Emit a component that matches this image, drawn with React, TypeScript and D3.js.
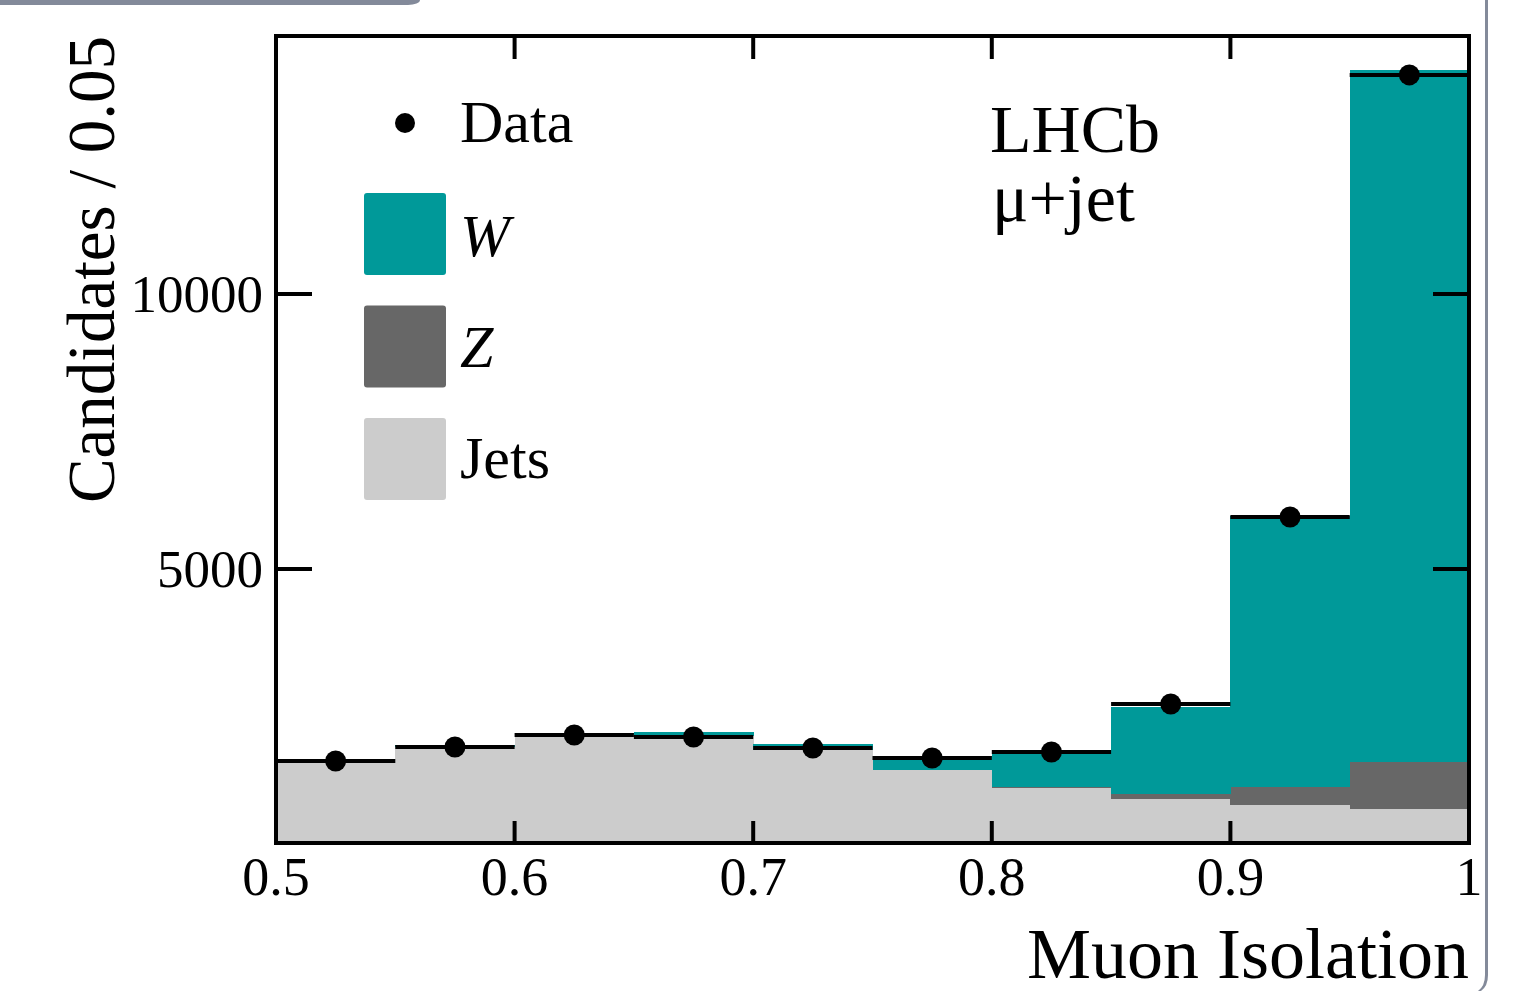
import React from "react";
import * as d3 from "d3";

const binEdges = [0.5, 0.55, 0.6, 0.65, 0.7, 0.75, 0.8, 0.85, 0.9, 0.95, 1.0];
const jets = [1512, 1764, 2000, 1964, 1709, 1345, 1018, 818, 709, 636];
const zBos = [0, 0, 0, 0, 0, 0, 22, 91, 327, 855];
const wBos = [4, 36, 18, 72, 115, 255, 596, 1581, 4930, 12582];
const data = [1509, 1764, 1982, 1945, 1745, 1564, 1673, 2545, 5945, 13982];
const xTicks = [0.5, 0.6, 0.7, 0.8, 0.9, 1.0];
const xTickLabels = ["0.5", "0.6", "0.7", "0.8", "0.9", "1"];
const yTicks = [5000, 10000];
const legendItems = [
  { label: "W", color: "#009999", italic: true },
  { label: "Z", color: "#676767", italic: true },
  { label: "Jets", color: "#cccccc", italic: false },
];

const W = 1527;
const H = 991;
const L = 276, R = 1469, T = 36, B = 844;
const FONT = "'Liberation Serif', 'Times New Roman', serif";

export default function App() {
  const x = d3.scaleLinear().domain([0.5, 1.0]).range([L, R]);
  const y = d3.scaleLinear().domain([0, 14690]).range([B, T]);

  const layers = [
    { vals: jets, color: "#cccccc" },
    { vals: zBos, color: "#676767" },
    { vals: wBos, color: "#009999" },
  ];
  const cum = new Array(jets.length).fill(0);
  const rects: React.ReactElement[] = [];
  layers.forEach((layer, li) => {
    layer.vals.forEach((v, i) => {
      const y0 = cum[i];
      const y1 = cum[i] + v;
      cum[i] = y1;
      if (v <= 0) return;
      rects.push(
        <rect
          key={`r${li}-${i}`}
          x={x(binEdges[i])}
          width={x(binEdges[i + 1]) - x(binEdges[i]) + 0.6}
          y={y(y1)}
          height={y(y0) - y(y1)}
          fill={layer.color}
          shapeRendering="crispEdges"
        />
      );
    });
  });

  return (
    <svg width={W} height={H} style={{ position: "absolute", left: 0, top: 0, background: "#fff" }} fontFamily={FONT}>
      {/* decorative frame */}
      <path d="M0,0 L420,0 A12,5 0 0 1 408,5 L0,5 Z" fill="#838a9a" />
      <path d="M1485,0 L1485,975 Q1485,986 1478,991 L1481,991 Q1488,986 1488,975 L1488,0 Z" fill="#838a9a" />

      {rects}

      {/* data */}
      {data.map((v, i) => (
        <g key={`d${i}`}>
          <line x1={x(binEdges[i])} x2={x(binEdges[i + 1])} y1={y(v)} y2={y(v)} stroke="#000" strokeWidth={4} />
          <circle cx={x((binEdges[i] + binEdges[i + 1]) / 2)} cy={y(v)} r={10.5} fill="#000" />
        </g>
      ))}

      {/* ticks */}
      {xTicks.map((t, i) => (
        <g key={`xt${i}`}>
          <line x1={x(t)} x2={x(t)} y1={B} y2={B - 23} stroke="#000" strokeWidth={4} />
          <line x1={x(t)} x2={x(t)} y1={T} y2={T + 23} stroke="#000" strokeWidth={4} />
          <text x={x(t)} y={895} fontSize={54} textAnchor="middle" fill="#000">{xTickLabels[i]}</text>
        </g>
      ))}
      {yTicks.map((t) => (
        <g key={`yt${t}`}>
          <line x1={L} x2={L + 36} y1={y(t)} y2={y(t)} stroke="#000" strokeWidth={4} />
          <line x1={R} x2={R - 36} y1={y(t)} y2={y(t)} stroke="#000" strokeWidth={4} />
          <text x={263} y={y(t) + 18} fontSize={53} textAnchor="end" fill="#000">{t}</text>
        </g>
      ))}

      {/* frame */}
      <rect x={L} y={T} width={R - L} height={B - T - 1} fill="none" stroke="#000" strokeWidth={4} />

      {/* axis titles */}
      <text x={R} y={978} fontSize={72} textAnchor="end" fill="#000">Muon Isolation</text>
      <text transform={`translate(114, ${T}) rotate(-90)`} fontSize={67} textAnchor="end" fill="#000">Candidates / 0.05</text>

      {/* legend */}
      <circle cx={405} cy={123} r={10} fill="#000" />
      <text x={460} y={142} fontSize={60} fill="#000">Data</text>
      {legendItems.map((it, i) => (
        <g key={`lg${i}`}>
          <rect x={364} y={193 + i * 112.5} width={82} height={82} rx={3} fill={it.color} />
          <text x={460} y={256 + i * 111} fontSize={60} fontStyle={it.italic ? "italic" : "normal"} fill="#000">{it.label}</text>
        </g>
      ))}

      {/* LHCb label */}
      <text x={990} y={152} fontSize={68} fill="#000">LHCb</text>
      <text x={992} y={221} fontSize={68} fill="#000">μ+jet</text>
    </svg>
  );
}
